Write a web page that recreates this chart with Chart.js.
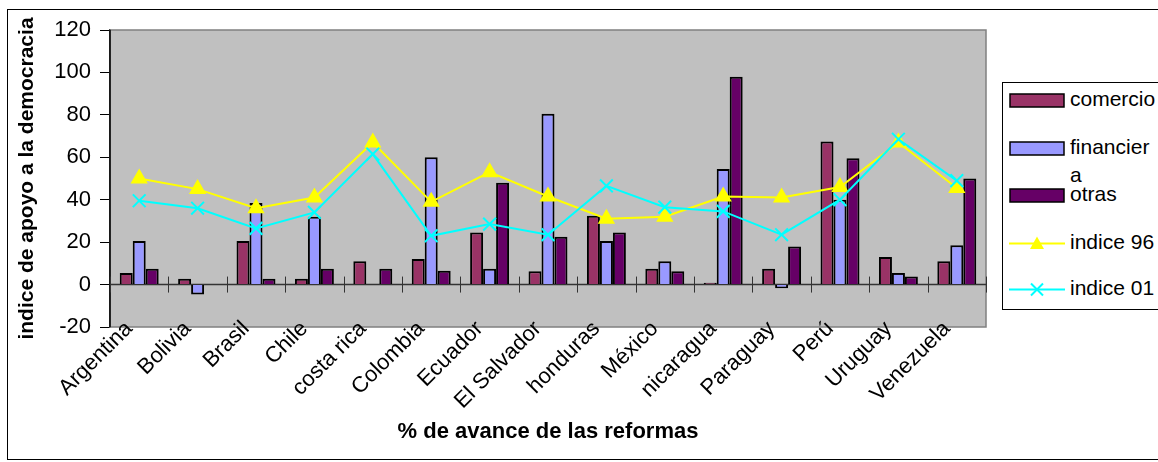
<!DOCTYPE html>
<html>
<head>
<meta charset="utf-8">
<title>indice de apoyo a la democracia</title>
<script src="https://cdn.jsdelivr.net/npm/chart.js@4.4.1/dist/chart.umd.min.js"></script>
<style>
    html, body { margin: 0; padding: 0; background: #fff; }
    #wrap { position: relative; width: 1158px; height: 462px; overflow: hidden; font-family: 'Liberation Sans', Arial, sans-serif; }
    #frame { position: absolute; left: 7px; top: 9px; width: 1300px; height: 449px; border: 1px solid #000; }
    #chartBox { position: absolute; left: 0; top: 0; width: 1158px; height: 462px; }
    #legend { position: absolute; left: 1002px; top: 82px; width: 300px; height: 226px; border: 1px solid #000; background: #fff; }
    .item { position: absolute; left: 0; }
    .item svg { position: absolute; left: 6px; }
    .item .txt { position: absolute; left: 67px; width: 88px; font-size: 21px; line-height: 28px; color: #000; word-break: break-all; }
</style>
</head>
<body>
<div id="wrap">
    <div id="frame"></div>
    <div id="chartBox"><canvas id="reformChart"></canvas></div>
    <div id="legend"></div>
</div>
<script>
// Datos: % de avance de las reformas vs indice de apoyo a la democracia
const categories = ['Argentina', 'Bolivia', 'Brasil', 'Chile', 'costa rica', 'Colombia', 'Ecuador',
    'El Salvador', 'honduras', 'México', 'nicaragua', 'Paraguay', 'Perú', 'Uruguay', 'Venezuela'];

const comercio   = [5.5, 2.7, 20.5, 2.7, 11, 12, 24.5, 6.3, 32.5, 7.5, 0.8, 7.5, 67.5, 13, 11];
const financiera = [20.5, -4.7, 38.5, 32, null, 60, 7.5, 80.5, 20.5, 11, 54.5, -1.7, 40, 5.5, 18.5];
const otras      = [7.5, null, 2.7, 7.5, 7.5, 6.5, 48, 22.5, 24.5, 6.3, 98, 18, 59.5, 3.8, 50];
const indice96   = [50, 45, 36, 41, 67, 39, 53, 41.5, 31, 32, 41.5, 41, 46, 67, 45.5];
const indice01   = [39.5, 36, 26.5, 34, 61.5, 23, 28.5, 23.5, 46.5, 36.5, 34.5, 23.5, 40, 68.5, 49];

const seriesNames = ['comercio', 'financiera', 'otras', 'indice 96', 'indice 01'];
const yMin = -20;
const yMax = 120;
const yStep = 20;

const FONT = "'Liberation Sans', Arial, sans-serif";

// Grey plot area, frame, zero line with category separators
const plotAreaPlugin = {
    id: 'plotArea',
    beforeDatasetsDraw(chart) {
        const { ctx, chartArea: a } = chart;
        const xs = chart.scales.x;
        const ys = chart.scales.y;
        const w = a.right - a.left;
        const h = a.bottom - a.top;

        ctx.save();
        ctx.fillStyle = '#c0c0c0';
        ctx.fillRect(a.left, a.top, w, h);
        ctx.strokeStyle = '#808080';
        ctx.lineWidth = 1.5;
        ctx.strokeRect(a.left, a.top, w, h);

        // value axis line
        ctx.strokeStyle = '#000';
        ctx.beginPath();
        ctx.moveTo(a.left, a.top);
        ctx.lineTo(a.left, a.bottom);
        ctx.stroke();

        // category axis at zero
        const y0 = ys.getPixelForValue(0);
        const step = xs.getPixelForValue(1) - xs.getPixelForValue(0);
        const first = xs.getPixelForValue(0) - step / 2;

        ctx.strokeStyle = '#333';
        ctx.beginPath();
        ctx.moveTo(a.left, y0);
        ctx.lineTo(a.right, y0);
        ctx.stroke();

        ctx.lineWidth = 1;
        for (let i = 0; i <= categories.length; i++) {
            const px = Math.round(first + i * step) + 0.5;
            ctx.beginPath();
            ctx.moveTo(px, y0 - 8);
            ctx.lineTo(px, y0 + 8);
            ctx.stroke();
        }
        ctx.restore();
    }
};

function barSet(label, data, color, order) {
    return {
        type: 'bar',
        label: label,
        data: data,
        backgroundColor: color,
        borderColor: '#000',
        borderWidth: 2,
        categoryPercentage: 0.667,
        barPercentage: 1.0,
        order: order
    };
}

function lineSet(label, data, color, pointStyle, radius, order) {
    return {
        type: 'line',
        label: label,
        data: data,
        borderColor: color,
        backgroundColor: color,
        borderWidth: 2,
        pointStyle: pointStyle,
        pointRadius: radius,
        pointBorderColor: color,
        pointBackgroundColor: color,
        pointBorderWidth: 2,
        tension: 0,
        fill: false,
        order: order
    };
}

function buildChart() {
    const ctx = document.getElementById('reformChart');

    return new Chart(ctx, {
        data: {
            labels: categories,
            datasets: [
                barSet(seriesNames[0], comercio, '#993366', 3),
                barSet(seriesNames[1], financiera, '#9999ff', 3),
                barSet(seriesNames[2], otras, '#660066', 3),
                lineSet(seriesNames[3], indice96, '#ffff00', 'triangle', 8, 1),
                lineSet(seriesNames[4], indice01, '#00ffff', 'crossRot', 9, 0)
            ]
        },
        options: {
            responsive: true,
            maintainAspectRatio: false,
            animation: false,
            layout: { padding: { left: 0, top: 30, right: 172, bottom: 0 } },
            plugins: {
                legend: { display: false },
                tooltip: { enabled: false }
            },
            scales: {
                x: {
                    type: 'category',
                    offset: true,
                    grid: { display: false },
                    border: { display: false },
                    ticks: {
                        z: 1, // draw labels over the grey plot area
                        color: '#000',
                        font: { family: FONT, size: 22 },
                        minRotation: 45,
                        maxRotation: 45,
                        autoSkip: false,
                        padding: -19,
                        labelOffset: -10
                    },
                    title: {
                        display: true,
                        text: '% de avance de las reformas',
                        color: '#000',
                        font: { family: FONT, size: 22, weight: 'bold' },
                        padding: { top: 0, bottom: 17 }
                    },
                    afterFit(scale) {
                        scale.height = 135;
                        // labels touch the plot edge like in Excel, so don't clip them to the axis box
                        scale._computeLabelArea = () => undefined;
                    }
                },
                y: {
                    min: yMin,
                    max: yMax,
                    ticks: {
                        stepSize: yStep,
                        color: '#000',
                        font: { family: FONT, size: 22 },
                        padding: 9
                    },
                    grid: {
                        drawOnChartArea: false,
                        drawTicks: true,
                        tickLength: 10,
                        color: '#000',
                        lineWidth: 1
                    },
                    border: { display: true, color: '#000', width: 1.5 },
                    title: {
                        display: true,
                        text: 'indice de apoyo a la democracia',
                        color: '#000',
                        font: { family: FONT, size: 21, weight: 'bold' },
                        padding: { top: 15, bottom: 0 }
                    },
                    afterFit(scale) { scale.width = 110; }
                }
            }
        },
        plugins: [plotAreaPlugin]
    });
}

/**
 * Legend box on the right (Excel style)
 */
function buildLegend() {
    const box = document.getElementById('legend');
    const rows = [
        { name: seriesNames[0], kind: 'bar', color: '#993366', y: 17 },
        { name: seriesNames[1], kind: 'bar', color: '#9999ff', y: 65 },
        { name: seriesNames[2], kind: 'bar', color: '#660066', y: 112 },
        { name: seriesNames[3], kind: 'tri', color: '#ffff00', y: 160 },
        { name: seriesNames[4], kind: 'x', color: '#00ffff', y: 206 }
    ];

    let html = '';
    rows.forEach(r => {
        let mark = '';
        if (r.kind === 'bar') {
            mark = `<rect x="1" y="1" width="54" height="13" fill="${r.color}" stroke="#000" stroke-width="1.5"/>`;
        } else if (r.kind === 'tri') {
            mark = `<line x1="0" y1="7.5" x2="56" y2="7.5" stroke="${r.color}" stroke-width="2"/>
                    <polygon points="28,0.5 35,13 21,13" fill="${r.color}"/>`;
        } else {
            mark = `<line x1="0" y1="7.5" x2="56" y2="7.5" stroke="${r.color}" stroke-width="2"/>
                    <line x1="22" y1="1.5" x2="34" y2="13.5" stroke="${r.color}" stroke-width="2"/>
                    <line x1="34" y1="1.5" x2="22" y2="13.5" stroke="${r.color}" stroke-width="2"/>`;
        }
        html += `
            <div class="item" style="top:${r.y}px;">
                <svg width="58" height="15" style="top:-7px;">${mark}</svg>
                <div class="txt" style="top:-15px;">${r.name}</div>
            </div>`;
    });
    box.innerHTML = html;
}

buildChart();
buildLegend();
</script>
</body>
</html>
